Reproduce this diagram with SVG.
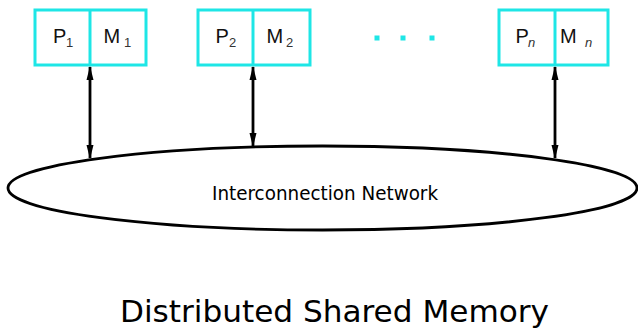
<svg xmlns="http://www.w3.org/2000/svg" width="638" height="329" viewBox="0 0 638 329">
  <style>
    .box { fill: #ffffff; stroke: #1ee6e6; stroke-width: 3; }
    .lbl { font-family: "Liberation Sans", Arial, sans-serif; font-size: 20px; fill: #111; }
    .sub { font-family: "Liberation Sans", Arial, sans-serif; font-size: 13px; fill: #333; }
    .subi { font-family: "Liberation Sans", Arial, sans-serif; font-size: 13px; font-style: italic; fill: #333; }
    .link { stroke: #000; stroke-width: 2.8; fill: none; marker-start: url(#head); marker-end: url(#head); }
    .net { fill: #ffffff; stroke: #000; stroke-width: 2.8; }
    .tah { font-family: "DejaVu Sans Condensed", "DejaVu Sans", sans-serif; fill: #000; }
    .dot { fill: #1ee6e6; }
  </style>
  <defs>
    <marker id="head" viewBox="0 0 14 8" refX="13" refY="4" markerWidth="14" markerHeight="8" markerUnits="userSpaceOnUse" orient="auto-start-reverse">
      <path d="M0,0.5 L14,4 L0,7.5 Z" fill="#000"/>
    </marker>
  </defs>

  <!-- interconnection network -->
  <g id="network">
    <ellipse class="net" cx="322.5" cy="188" rx="314.5" ry="42"/>
    <text class="tah" x="212" y="200" font-size="19.5" textLength="226" lengthAdjust="spacingAndGlyphs">Interconnection Network</text>
  </g>

  <!-- node 1 -->
  <g id="node1">
    <rect class="box" x="35" y="10" width="111" height="55"/>
    <line x1="90" y1="10" x2="90" y2="65" stroke="#1ee6e6" stroke-width="3"/>
    <text class="lbl" x="53" y="43">P</text>
    <text class="sub" x="66" y="47">1</text>
    <text class="lbl" x="103.5" y="43">M</text>
    <text class="sub" x="124" y="47">1</text>
  </g>

  <!-- node 2 -->
  <g id="node2">
    <rect class="box" x="198" y="10" width="112" height="55"/>
    <line x1="253" y1="10" x2="253" y2="65" stroke="#1ee6e6" stroke-width="3"/>
    <text class="lbl" x="215.5" y="43">P</text>
    <text class="sub" x="229" y="47">2</text>
    <text class="lbl" x="266.5" y="43">M</text>
    <text class="sub" x="286" y="47">2</text>
  </g>

  <!-- ellipsis between nodes -->
  <g id="more">
    <rect class="dot" x="374.5" y="35.5" width="5" height="5"/>
    <rect class="dot" x="400.5" y="35.5" width="5" height="5"/>
    <rect class="dot" x="429.5" y="35.5" width="5" height="5"/>
  </g>

  <!-- node n -->
  <g id="nodeN">
    <rect class="box" x="499" y="10" width="109" height="55"/>
    <line x1="555" y1="10" x2="555" y2="65" stroke="#1ee6e6" stroke-width="3"/>
    <text class="lbl" x="515.5" y="43">P</text>
    <text class="subi" x="528" y="47">n</text>
    <text class="lbl" x="560" y="43">M</text>
    <text class="subi" x="585" y="47">n</text>
  </g>

  <!-- links between nodes and the network -->
  <g id="connectors">
    <line class="link" x1="90" y1="67" x2="90" y2="158"/>
    <line class="link" x1="253" y1="67" x2="253" y2="146"/>
    <line class="link" x1="555" y1="67" x2="555" y2="158"/>
  </g>

  <text class="tah" x="120" y="322" font-size="31" textLength="429" lengthAdjust="spacingAndGlyphs">Distributed Shared Memory</text>
</svg>
